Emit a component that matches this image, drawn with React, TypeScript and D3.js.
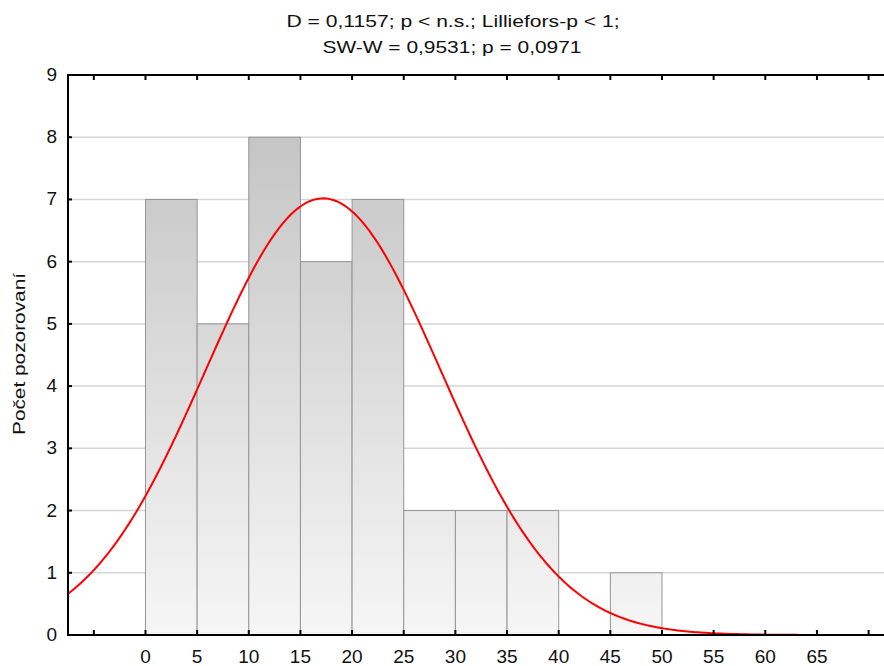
import React from "react";
import * as d3 from "d3";

const binStarts = [0, 5, 10, 15, 20, 25, 30, 35, 40, 45];
const binWidth = 5;
const counts = [7, 5, 8, 6, 7, 2, 2, 2, 0, 1];
const xTickValues = [-5, 0, 5, 10, 15, 20, 25, 30, 35, 40, 45, 50, 55, 60, 65, 70];
const xTickLabels = ["", "0", "5", "10", "15", "20", "25", "30", "35", "40", "45", "50", "55", "60", "65", ""];
const yTickValues = [0, 1, 2, 3, 4, 5, 6, 7, 8, 9];
const fitMean = 17.2;
const fitSd = 11.37;
const titleLines = [
  "D = 0,1157; p < n.s.; Lilliefors-p < 1;",
  "SW-W = 0,9531; p = 0,0971",
];
const yLabel = "Počet pozorovaní";

const W = 884;
const H = 666;
const left = 68;
const top = 75;
const bottom = 635;

export default function App() {
  const x = d3.scaleLinear().domain([-7.5, 72.5]).range([left, 146 + 72.5 * (671 / 65)]);
  const y = d3.scaleLinear().domain([0, 9]).range([bottom, top]);
  const total = d3.sum(counts);
  const pdf = (v: number) =>
    (total * binWidth) / (fitSd * Math.sqrt(2 * Math.PI)) *
    Math.exp(-0.5 * ((v - fitMean) / fitSd) ** 2);
  const curvePts = d3.range(-7.5, 72.5001, 0.25).map((v) => [v, pdf(v)] as [number, number]);
  const line = d3.line<[number, number]>().x((d) => x(d[0])).y((d) => y(d[1])).curve(d3.curveLinear);
  const right = x(72.5);
  const font = "Arial, 'Liberation Sans', sans-serif";
  const titleLayout = [
    { cx: 453, y: 27, len: 333 },
    { cx: 452, y: 53, len: 259 },
  ];

  return (
    <svg width={W} height={H} style={{ position: "absolute", left: 0, top: 0 }} fontFamily={font}>
      <defs>
        <linearGradient id="barGrad" gradientUnits="userSpaceOnUse" x1={0} y1={y(9)} x2={0} y2={y(0)}>
          <stop offset="0" stopColor="#bfbfbf" />
          <stop offset="1" stopColor="#f6f6f6" />
        </linearGradient>
        <clipPath id="plotClip">
          <rect x={left} y={top} width={right - left} height={bottom - top} />
        </clipPath>
      </defs>
      <rect x={0} y={0} width={W} height={H} fill="#fff" />
      {titleLines.map((t, i) => (
        <text
          key={i}
          x={titleLayout[i].cx - titleLayout[i].len / 2}
          y={titleLayout[i].y}
          fontSize={17}
          fill="#111"
          textLength={titleLayout[i].len}
          lengthAdjust="spacingAndGlyphs"
        >
          {t}
        </text>
      ))}
      {yTickValues.slice(1, -1).map((v) => (
        <line key={v} x1={left} x2={right} y1={y(v)} y2={y(v)} stroke="#d6d6d6" strokeWidth={1.5} />
      ))}
      {counts.map((c, i) =>
        c > 0 ? (
          <rect
            key={i}
            x={x(binStarts[i])}
            y={y(c)}
            width={x(binStarts[i] + binWidth) - x(binStarts[i])}
            height={y(0) - y(c)}
            fill="url(#barGrad)"
            stroke="#959595"
            strokeWidth={1}
          />
        ) : null
      )}
      <path d={line(curvePts) || ""} fill="none" stroke="#ff0000" strokeWidth={2} clipPath="url(#plotClip)" />
      <line x1={left} x2={right} y1={top} y2={top} stroke="#000" strokeWidth={2} />
      <line x1={left} x2={right} y1={bottom} y2={bottom} stroke="#000" strokeWidth={2} />
      <line x1={left} x2={left} y1={top - 1} y2={bottom + 1} stroke="#000" strokeWidth={2} />
      {xTickValues.map((v, i) => (
        <g key={v}>
          <line x1={x(v)} x2={x(v)} y1={bottom} y2={bottom - 5} stroke="#000" strokeWidth={2} />
          <line x1={x(v)} x2={x(v)} y1={top} y2={top + 5} stroke="#000" strokeWidth={2} />
          <text x={x(v)} y={663} textAnchor="middle" fontSize={19} fill="#111">
            {xTickLabels[i]}
          </text>
        </g>
      ))}
      {yTickValues.map((v) => (
        <g key={v}>
          <line x1={left} x2={left + 4} y1={y(v)} y2={y(v)} stroke="#000" strokeWidth={2} />
          <text x={57} y={y(v) + 6} textAnchor="end" fontSize={19} fill="#111">
            {v}
          </text>
        </g>
      ))}
      <text
        transform={`translate(25, ${354 + 81}) rotate(-90)`}
        fontSize={17}
        fill="#111"
        textLength={162}
        lengthAdjust="spacingAndGlyphs"
      >
        {yLabel}
      </text>
    </svg>
  );
}
